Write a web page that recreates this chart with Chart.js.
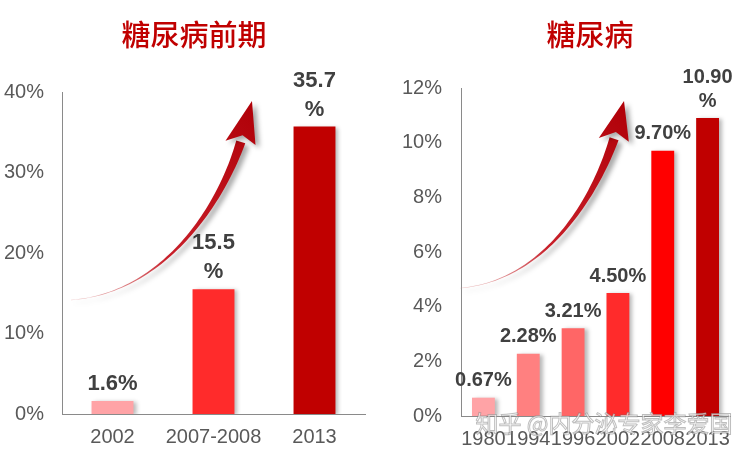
<!DOCTYPE html>
<html>
<head>
<meta charset="utf-8">
<script src="https://cdn.jsdelivr.net/npm/chart.js@4.4.1/dist/chart.umd.min.js"></script>
<style>
  html, body { margin: 0; padding: 0; background: #fff; }
  .wrap { position: relative; width: 749px; height: 460px; overflow: hidden; }
  .box { position: absolute; top: 0; height: 460px; }
  #boxPre { left: 0; width: 375px; }
  #boxDm { left: 375px; width: 374px; }
</style>
</head>
<body>
<div class="wrap">
  <div class="box" id="boxPre"><canvas id="chartPre" width="375" height="460"></canvas></div>
  <div class="box" id="boxDm"><canvas id="chartDm" width="374" height="460"></canvas></div>
</div>
<script>
// 糖尿病前期
const preYears = ['2002', '2007-2008', '2013'];
const preValues = [1.6, 15.5, 35.7];
const preLabels = ['1.6%', '15.5%', '35.7%'];
const preColors = ['#FFA3A6', '#FF2B2B', '#C00000'];
const preTicks = [0, 10, 20, 30, 40];

// 糖尿病
const dmYears = ['1980', '1994', '1996', '2002', '2008', '2013'];
const dmValues = [0.67, 2.28, 3.21, 4.50, 9.70, 10.90];
const dmLabels = ['0.67%', '2.28%', '3.21%', '4.50%', '9.70%', '10.90%'];
const dmColors = ['#FFA3A6', '#FF8080', '#FF6666', '#FF2B2B', '#FF0000', '#C00000'];
const dmTicks = [0, 2, 4, 6, 8, 10, 12];

const tickFont = { family: '"Liberation Sans", Arial, sans-serif', size: 20 };

function drawArrow(chart, a) {
  const ctx = chart.ctx;
  const { left, top, width, height } = chart.chartArea;
  const P = p => [left + p[0] * width, top + p[1] * height];
  const p0 = P(a.tail), p1 = P(a.c1), p2 = P(a.c2), p3 = P(a.base), tip = P(a.tip);

  const side1 = [], side2 = [];
  const N = 60;
  for (let i = 0; i <= N; i++) {
    const t = i / N, mt = 1 - t;
    const x = mt*mt*mt*p0[0] + 3*mt*mt*t*p1[0] + 3*mt*t*t*p2[0] + t*t*t*p3[0];
    const y = mt*mt*mt*p0[1] + 3*mt*mt*t*p1[1] + 3*mt*t*t*p2[1] + t*t*t*p3[1];
    const dx = 3*mt*mt*(p1[0]-p0[0]) + 6*mt*t*(p2[0]-p1[0]) + 3*t*t*(p3[0]-p2[0]);
    const dy = 3*mt*mt*(p1[1]-p0[1]) + 6*mt*t*(p2[1]-p1[1]) + 3*t*t*(p3[1]-p2[1]);
    const len = Math.hypot(dx, dy) || 1;
    const w = (0.4 + a.width * Math.pow(t, 1.8)) / 2;
    side1.push([x - dy / len * w, y + dx / len * w]);
    side2.push([x + dy / len * w, y - dx / len * w]);
  }

  let dx = tip[0] - p3[0], dy = tip[1] - p3[1];
  const len = Math.hypot(dx, dy);
  dx /= len; dy /= len;
  const nx = -dy, ny = dx;
  const hw = a.headWidth / 2;

  const grad = ctx.createLinearGradient(p0[0], p0[1], tip[0], tip[1]);
  grad.addColorStop(0, 'rgba(220,140,140,0.5)');
  grad.addColorStop(0.35, '#C8202A');
  grad.addColorStop(1, '#B00008');

  ctx.save();
  ctx.shadowColor = 'rgba(0,0,0,0.35)';
  ctx.shadowBlur = 5;
  ctx.shadowOffsetX = 4;
  ctx.shadowOffsetY = 3;
  ctx.fillStyle = grad;
  ctx.beginPath();
  ctx.moveTo(side1[0][0], side1[0][1]);
  side1.forEach(p => ctx.lineTo(p[0], p[1]));
  for (let i = side2.length - 1; i >= 0; i--) ctx.lineTo(side2[i][0], side2[i][1]);
  ctx.closePath();
  ctx.fill();

  ctx.beginPath();
  ctx.moveTo(tip[0], tip[1]);
  ctx.lineTo(p3[0] - nx * hw - dx * 3, p3[1] - ny * hw - dy * 3);
  ctx.lineTo(p3[0] + dx * 7, p3[1] + dy * 7);
  ctx.lineTo(p3[0] + nx * hw + dx * 1, p3[1] + ny * hw + dy * 1);
  ctx.closePath();
  ctx.fill();
  ctx.restore();
}

const decor = {
  id: 'decor',
  beforeDatasetsDraw(chart) {
    const ctx = chart.ctx;
    ctx.save();
    ctx.shadowColor = 'rgba(0,0,0,0.28)';
    ctx.shadowBlur = 4;
    ctx.shadowOffsetX = 3;
    ctx.shadowOffsetY = 1;
  },
  afterDatasetsDraw(chart, args, opts) {
    const ctx = chart.ctx;
    ctx.restore();

    const meta = chart.getDatasetMeta(0);
    ctx.save();
    ctx.font = 'bold ' + opts.labelSize + 'px "Liberation Sans", Arial, sans-serif';
    ctx.fillStyle = '#404040';
    ctx.textAlign = 'center';
    ctx.textBaseline = 'middle';
    meta.data.forEach((bar, i) => {
      const text = opts.labels[i];
      let lines = [text];
      if (ctx.measureText(text).width > 62) lines = [text.slice(0, -1), '%'];
      lines.forEach((ln, j) => {
        const y = bar.y - opts.gap - (lines.length - 1 - j) * opts.lineH;
        ctx.fillText(ln, bar.x, y);
      });
    });
    ctx.restore();

    drawArrow(chart, opts.arrow);
  },
  afterDraw(chart, args, opts) {
    const ctx = chart.ctx;
    ctx.save();
    ctx.font = '500 29px "Noto Sans CJK SC", sans-serif';
    ctx.fillStyle = '#C00000';
    ctx.textAlign = 'center';
    ctx.textBaseline = 'middle';
    ctx.fillText(opts.title, opts.titleX, 35);
    if (opts.mark) {
      ctx.font = '23px "Noto Sans CJK SC", sans-serif';
      ctx.lineWidth = 1;
      ctx.strokeStyle = 'rgba(110,110,110,0.45)';
      ctx.fillStyle = 'rgba(255,255,255,0.75)';
      ctx.fillText(opts.mark, opts.markX, 423);
      ctx.strokeText(opts.mark, opts.markX, 423);
    }
    ctx.restore();
  }
};

function makeChart(id, years, values, colors, ticks, opts) {
  return new Chart(id, {
    type: 'bar',
    data: {
      labels: years,
      datasets: [{
        data: values,
        backgroundColor: colors,
        barPercentage: opts.barPct,
        categoryPercentage: 1
      }]
    },
    options: {
      responsive: false,
      animation: false,
      layout: { padding: { top: opts.top, right: opts.right, left: 0, bottom: 0 } },
      plugins: {
        legend: { display: false },
        tooltip: { enabled: false },
        decor: opts.decor
      },
      scales: {
        x: {
          grid: { display: false, drawTicks: false },
          border: { display: true, color: '#8A8A8A', width: 1 },
          ticks: { color: '#595959', font: tickFont, padding: opts.xPad, maxRotation: 0, autoSkip: false },
          afterFit: s => { s.height = opts.xHeight; }
        },
        y: {
          min: ticks[0],
          max: ticks[ticks.length - 1],
          grid: { display: false, drawTicks: false },
          border: { display: true, color: '#8A8A8A', width: 1 },
          ticks: { color: '#595959', font: tickFont, padding: opts.yPad, callback: v => v + '%' },
          afterBuildTicks: s => { s.ticks = ticks.map(v => ({ value: v })); },
          afterFit: s => { s.width = opts.yWidth; }
        }
      }
    },
    plugins: [decor]
  });
}

makeChart('chartPre', preYears, preValues, preColors, preTicks, {
  barPct: 0.415, top: 92, right: 10, xHeight: 46, yWidth: 62, xPad: 11, yPad: 18,
  decor: {
    labels: preLabels, labelSize: 22, gap: 17, lineH: 29,
    title: '糖尿病前期', titleX: 194,
    arrow: { tail: [0.03, 0.646], c1: [0.33, 0.625], c2: [0.52, 0.36], base: [0.59, 0.155], tip: [0.627, 0.028], width: 9, headWidth: 30 }
  }
});

makeChart('chartDm', dmYears, dmValues, dmColors, dmTicks, {
  barPct: 0.51, top: 88, right: 19, xHeight: 44, yWidth: 86, xPad: 11, yPad: 19,
  decor: {
    labels: dmLabels, labelSize: 20, gap: 17, lineH: 24,
    title: '糖尿病', titleX: 215,
    mark: '知乎 @内分泌专家李爱国', markX: 229,
    arrow: { tail: [-0.004, 0.61], c1: [0.30, 0.59], c2: [0.49, 0.35], base: [0.569, 0.155], tip: [0.606, 0.04], width: 9, headWidth: 30 }
  }
});
</script>
</body>
</html>
